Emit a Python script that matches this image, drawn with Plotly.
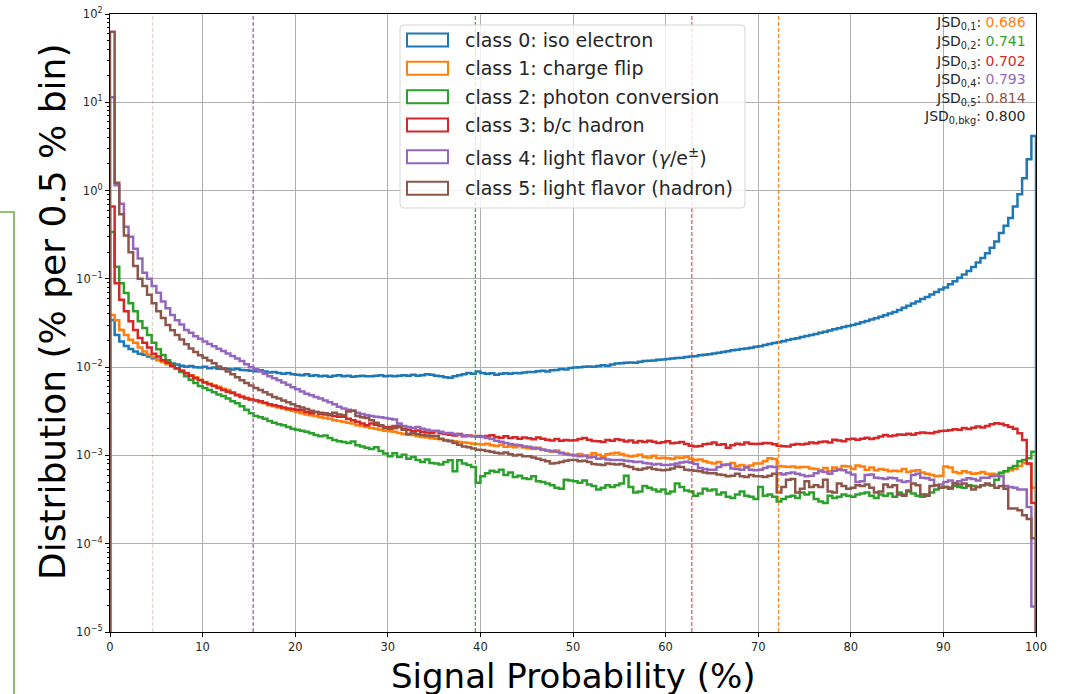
import numpy as np
import plotly.graph_objects as go

# Histogram contents, one value per 0.5 % bin (200 bins from 0 to 100 %),
# listed in units of 1e-4 % so the numbers stay short.
UNIT = 1e-4
BIN_WIDTH = 0.5

class0 = [
    341, 232, 195, 174, 160, 150, 142, 138, 132, 126,
    121, 117, 114, 110, 107, 104, 101, 103, 100, 99,
    101, 97, 99, 96, 97, 95, 94, 96, 93, 92,
    91, 90, 92, 89, 87, 88, 86, 84, 86, 83,
    82, 81, 83, 80, 81, 79, 80, 78, 80, 81,
    79, 80, 78, 79, 80, 79, 79, 80, 81, 79,
    80, 79, 80, 81, 80, 82, 80, 81, 83, 82,
    80, 79, 77, 76, 79, 81, 83, 86, 84, 89,
    86, 84, 85, 82, 84, 85, 84, 86, 85, 87,
    88, 88, 90, 91, 89, 92, 93, 95, 94, 98,
    99, 100, 101, 102, 101, 103, 105, 104, 107, 110,
    111, 112, 113, 112, 115, 117, 118, 119, 121, 122,
    124, 125, 127, 128, 130, 132, 133, 136, 138, 140,
    143, 146, 148, 151, 155, 157, 160, 163, 166, 170,
    173, 178, 183, 188, 192, 197, 203, 208, 213, 219,
    226, 232, 238, 245, 252, 260, 268, 276, 284, 292,
    300, 311, 322, 334, 346, 359, 372, 388, 404, 422,
    445, 470, 497, 525, 555, 590, 625, 665, 710, 760,
    800, 870, 940, 1030, 1120, 1230, 1360, 1530, 1720, 1950,
    2250, 2650, 3300, 4000, 4900, 6600, 9100, 13800, 22600, 41500,
]

class1 = [
    390, 340, 264, 232, 204, 189, 167, 150, 138, 130,
    120, 114, 108, 102, 97, 91, 86, 81, 77, 72,
    68, 65, 62, 60, 57, 55, 52, 49, 47, 45,
    43, 42, 40, 39, 37, 36, 35, 34, 33, 32,
    31, 30, 29, 28.5, 28, 27, 26.5, 26, 25, 24.5,
    24, 23.5, 23, 22, 21.5, 21, 20.5, 20, 19.5, 19,
    18.8, 18.5, 18, 17.5, 17.2, 17, 16.5, 16.2, 16, 15.7,
    15.5, 15.2, 15, 14.8, 14.5, 14.2, 14, 13.8, 13.6, 13.5,
    13.3, 13.6, 13.0, 12.8, 13.2, 12.5, 12.7, 12.4, 12.8, 12.3,
    12.0, 11.8, 12.2, 11.5, 11.3, 11.0, 11.4, 10.8, 10.5, 10.2,
    10.1, 10.4, 9.9, 10.0, 10.6, 10.2, 9.8, 10.3, 10.5, 10.7,
    10.4, 10.0, 9.7, 9.9, 10.2, 9.6, 9.5, 9.9, 9.3, 9.4,
    9.3, 9.1, 9.5, 9.4, 9.7, 9.2, 8.9, 9.0, 8.6, 8.3,
    8.1, 8.4, 7.8, 7.9, 8.2, 7.6, 7.8, 7.5, 7.7, 8.1,
    8.1, 8.6, 9.3, 9.1, 7.6, 7.5, 7.4, 7.5, 7.3, 7.4,
    7.4, 7.1, 7.0, 6.8, 7.2, 6.6, 7.3, 7.0, 7.6, 7.5,
    7.0, 7.7, 7.5, 6.9, 7.3, 6.8, 7.0, 6.9, 6.6, 6.7,
    6.6, 7.0, 6.5, 6.7, 6.8, 6.4, 6.2, 6.0, 5.8, 5.9,
    7.5, 7.3, 6.5, 6.3, 6.6, 6.4, 6.2, 6.3, 6.5, 6.2,
    6.2, 6.1, 6.4, 6.6, 6.8, 7.0, 7.6, 8.2, 8.0, 4.3,
]

class2 = [
    3400, 1370, 890, 690, 530, 430, 330, 278, 232, 189,
    159, 137, 120, 105, 97, 88, 79, 72, 66, 61,
    58, 55, 52, 49, 47, 44, 41, 39, 36, 33,
    30, 28, 27, 26, 24.5, 23.5, 22.5, 22, 21, 20,
    19.5, 19, 18.5, 17.8, 17, 16.5, 16.8, 15.8, 15, 14.5,
    14.2, 13.8, 14.4, 13, 12.6, 12.2, 11.8, 12.4, 11.2, 10.5,
    9.8, 10.6, 9.6, 10.2, 9.2, 9.6, 8.9, 8.4, 9.0, 8.2,
    8.1, 7.9, 8.4, 8.8, 6.6, 8.8, 8.1, 7.8, 7.4, 4.9,
    5.8, 6.3, 6.7, 6.5, 6.9, 6.0, 6.4, 5.7, 5.9, 5.5,
    5.4, 5.8, 5.1, 5.0, 4.8, 4.6, 4.3, 4.2, 5.3, 5.2,
    5.1, 4.9, 5.2, 4.7, 4.5, 4.1, 4.3, 4.6, 4.4, 4.6,
    4.8, 5.9, 4.4, 3.8, 3.9, 4.5, 4.3, 4.1, 3.9, 4.1,
    3.7, 3.9, 4.8, 4.4, 4.0, 3.9, 3.5, 3.7, 4.2, 4.0,
    4.1, 3.6, 3.8, 3.4, 3.3, 3.6, 3.9, 3.5, 3.4, 3.2,
    4.4, 3.5, 3.6, 3.4, 3.0, 3.2, 3.4, 3.5, 3.3, 3.8,
    3.6, 3.8, 3.2, 3.0, 2.9, 3.5, 3.3, 3.4, 3.6, 3.5,
    3.4, 3.6, 3.7, 3.8, 3.5, 3.3, 3.6, 3.5, 3.7, 3.4,
    3.8, 3.6, 3.9, 3.7, 3.5, 3.4, 3.6, 3.8, 4.1, 4.3,
    4.4, 4.2, 4.5, 4.4, 4.3, 4.6, 4.5, 4.4, 4.6, 4.7,
    4.6, 5.3, 6.3, 6.6, 7.2, 7.6, 8.6, 8.9, 9.3, 11.0,
]

class3 = [
    6600, 890, 580, 430, 330, 264, 214, 189, 167, 142,
    132, 120, 112, 104, 97, 91, 85, 80, 75, 71,
    67, 64, 61, 58, 55, 52.5, 51, 48, 46, 44,
    43, 42, 41, 39.5, 38, 37, 36, 35, 34, 33.5,
    33, 32.5, 31, 30, 31, 29.5, 29, 28.5, 28, 27.5,
    27.5, 26, 25, 24, 23, 22, 23, 22.2, 21.5, 21,
    21, 20.5, 21.5, 20, 19.5, 18.8, 19.2, 18.5, 18.2, 18,
    18.8, 17.8, 17.5, 17.2, 16.8, 17.5, 16.5, 16.8, 16.6, 16.6,
    16.4, 16.6, 16.9, 16.2, 15.9, 16.5, 15.8, 16.1, 15.5, 16.0,
    15.7, 15.2, 16.0, 15.4, 15.1, 14.8, 15.3, 14.7, 15.0, 14.8,
    14.9, 15.3, 15.8, 15.1, 14.6, 14.5, 14.2, 15.0, 14.7, 15.2,
    15.0, 14.4, 14.8, 14.0, 14.6, 14.2, 14.7, 14.3, 13.8, 14.1,
    14.5, 13.7, 13.9, 14.2, 13.5, 12.9, 12.6, 12.8, 13.4, 13.6,
    14.0, 13.2, 13.4, 12.2, 13.0, 13.6, 13.3, 14.0, 13.6, 13.5,
    13.6, 13.8, 13.7, 13.4, 12.9, 12.7, 12.6, 13.2, 13.5, 13.3,
    13.6, 14.0, 13.7, 14.2, 14.4, 14.0, 15.1, 14.8, 14.5, 15.2,
    15.4, 15.1, 15.5, 15.9, 15.3, 15.8, 16.4, 17.0, 16.5, 16.8,
    17.3, 17.1, 17.6, 17.2, 17.8, 18.2, 18.0, 17.8, 18.4, 18.9,
    19.0, 19.3, 19.8, 19.5, 20.4, 19.9, 20.6, 21.3, 20.7, 21.6,
    22.6, 23.2, 22.8, 22.0, 21.0, 20.0, 17.8, 15.0, 8.1, 2.9,
]

class4 = [
    114000, 11500, 7100, 3900, 3000, 2200, 1700, 1170, 1000, 830,
    695, 555, 465, 390, 340, 304, 264, 245, 224, 210,
    195, 183, 172, 162, 152, 143, 134, 125, 117, 108,
    100, 95, 89, 84, 79, 75, 71, 67, 63, 59,
    56, 53, 50, 48, 46, 44, 42, 40, 38, 35.5,
    34, 33, 32, 30.5, 29.5, 28.5, 28, 27.5, 27, 26.5,
    26, 25.5, 23, 21.5, 21, 20.5, 21, 20, 19.5, 19,
    19, 18.5, 18, 18, 17.5, 17.2, 16.8, 16.6, 16.5, 16.3,
    16.2, 15.8, 15.3, 14.7, 14.3, 13.8, 13.5, 13.2, 13.0, 12.6,
    12.5, 12.2, 12.0, 11.7, 11.4, 11.2, 11.0, 10.6, 10.3, 10.1,
    10.0, 9.8, 9.9, 9.5, 9.6, 9.2, 9.3, 9.0, 8.9, 8.9,
    8.9, 8.7, 8.6, 8.4, 8.5, 8.2, 8.1, 7.9, 8.0, 7.8,
    7.8, 7.9, 8.1, 8.3, 8.5, 8.3, 8.0, 7.2, 7.0, 6.9,
    6.9, 7.4, 7.8, 7.9, 7.1, 7.0, 6.9, 7.3, 6.9, 6.8,
    6.9, 7.2, 7.5, 7.4, 6.3, 6.1, 6.3, 6.4, 6.2, 6.0,
    5.8, 5.9, 6.3, 6.6, 6.5, 6.2, 6.7, 6.9, 6.8, 6.4,
    6.1, 5.0, 5.1, 6.0, 6.1, 5.6, 5.5, 5.4, 5.6, 5.5,
    5.2, 5.0, 5.1, 6.0, 6.2, 5.6, 5.5, 5.3, 4.6, 4.7,
    5.0, 5.2, 4.9, 5.1, 5.3, 5.5, 5.4, 5.2, 5.6, 5.6,
    5.8, 5.9, 5.8, 4.5, 4.4, 4.3, 4.1, 4.1, 2.6, 0.195,
]

class5 = [
    630000, 12300, 5400, 3100, 2000, 1400, 1000, 830, 660, 530,
    430, 360, 300, 262, 232, 205, 182, 163, 148, 136,
    128, 119, 111, 102, 95, 89, 83, 77, 71, 66,
    62, 58, 55, 52, 49, 46, 44, 42, 40, 38,
    36, 35, 33.5, 32, 31, 30.5, 30, 29.5, 30.5, 29,
    28.5, 31.5, 32, 28, 27, 26.5, 25, 23.5, 22, 20.5,
    20, 21.5, 21, 19.5, 17.5, 18, 17.4, 17, 16.8, 16.6,
    16.6, 15.5, 14.8, 14.5, 13.8, 13.2, 12.6, 12.4, 12.0, 11.6,
    11.5, 11.2, 11.0, 10.7, 10.5, 10.8, 10.3, 10.0, 10.2, 9.8,
    9.8, 9.5, 9.2, 8.9, 8.6, 8.1, 8.2, 8.4, 8.7, 8.9,
    8.9, 8.6, 8.7, 8.4, 8.0, 7.9, 7.8, 8.1, 8.0, 7.9,
    8.0, 7.6, 7.4, 7.0, 6.9, 7.1, 7.3, 7.0, 6.9, 6.8,
    6.9, 7.1, 7.5, 7.4, 6.9, 6.8, 6.7, 6.6, 6.4, 6.3,
    6.3, 6.1, 6.0, 5.8, 5.9, 6.2, 5.8, 5.7, 6.0, 5.8,
    5.8, 5.7, 5.9, 6.2, 3.8, 4.4, 5.3, 5.4, 3.8, 4.2,
    5.1, 4.4, 4.6, 4.4, 5.3, 3.9, 3.8, 4.8, 4.5, 4.2,
    4.3, 4.6, 4.5, 4.7, 4.3, 3.8, 3.9, 4.7, 4.4, 4.6,
    3.6, 3.5, 4.0, 4.8, 4.6, 3.6, 3.5, 4.5, 4.6, 4.3,
    4.4, 4.3, 4.8, 4.7, 4.8, 4.5, 4.1, 4.4, 4.6, 4.8,
    4.6, 4.3, 4.5, 4.2, 2.5, 2.5, 2.4, 2.1, 1.9, 1.15,
]

class_values = [class0, class1, class2, class3, class4, class5]
class_names = [
    "class 0: iso electron",
    "class 1: charge flip",
    "class 2: photon conversion",
    "class 3: b/c hadron",
    "class 4: light flavor (<i>γ</i>/e<sup>±</sup>)",
    "class 5: light flavor (hadron)",
]
class_colors = ["#1f77b4", "#ff7f0e", "#2ca02c", "#d62728", "#9467bd", "#8c564b"]

# Working-point thresholds (signal probability, %) per background class
thresholds = [4.6, 15.46, 39.46, 62.83, 72.2]
threshold_colors = [
    "rgba(140,86,75,0.25)",
    "rgba(148,103,189,1.0)",
    "rgba(44,160,44,0.9)",
    "rgba(214,39,40,0.75)",
    "rgba(255,127,14,0.9)",
]

# Jensen-Shannon divergences between class 0 and the other classes
jsd_subscripts = ["0,1", "0,2", "0,3", "0,4", "0,5", "0,bkg"]
jsd_values = ["0.686", "0.741", "0.702", "0.793", "0.814", "0.800"]
jsd_colors = ["#ff7f0e", "#2ca02c", "#d62728", "#9467bd", "#8c564b", "#262626"]

x_ticks = [0, 10, 20, 30, 40, 50, 60, 70, 80, 90, 100]
y_ticks = [1e-5, 1e-4, 1e-3, 1e-2, 1e-1, 1e0, 1e1, 1e2]
y_tick_text = ["10<sup>−5</sup>", "10<sup>−4</sup>", "10<sup>−3</sup>", "10<sup>−2</sup>",
               "10<sup>−1</sup>", "10<sup>0</sup>", "10<sup>1</sup>", "10<sup>2</sup>"]

# ---------------------------------------------------------------- layout
W, H = 1068, 694
ML, MR, MT, MB = 110, 32, 14, 62
FONT = "DejaVu Sans"


def px(x):
    """Pixel column -> paper x."""
    return (x - ML) / (W - ML - MR)


def py(y):
    """Pixel row -> paper y."""
    return (H - MB - y) / (H - MT - MB)


fig = go.Figure()

n_bins = len(class0)
edges = np.arange(n_bins + 1) * BIN_WIDTH
FLOOR = 1e-12  # outline closes down to below the axis, as a step histogram does

for vals, color in zip(class_values, class_colors):
    v = np.asarray(vals, dtype=float) * UNIT
    xs = np.concatenate([[edges[0]], edges[:-1], [edges[-1], edges[-1]]])
    ys = np.concatenate([[FLOOR], v, [v[-1], FLOOR]])
    fig.add_trace(go.Scatter(
        x=xs, y=ys, mode="lines",
        line=dict(color=color, width=2.5, shape="hv"),
        showlegend=False, hoverinfo="skip",
    ))

shapes = []

# faint decade line at 10^-1
shapes.append(dict(type="line", xref="paper", yref="y", x0=0, x1=1, y0=0.1, y1=0.1,
                   line=dict(color="rgba(255,255,255,0.8)", width=1.2), layer="between"))

# threshold markers
for t, c in zip(thresholds, threshold_colors):
    shapes.append(dict(type="line", xref="x", yref="paper", x0=t, x1=t, y0=0, y1=1,
                       line=dict(color=c, width=1.3, dash="4px,2px"), layer="above"))

# legend frame with rounded corners
lx0, lx1, ly0, ly1, r = 400, 745, 25, 208, 4
path = (f"M{px(lx0 + r)},{py(ly0)} L{px(lx1 - r)},{py(ly0)} "
        f"Q{px(lx1)},{py(ly0)} {px(lx1)},{py(ly0 + r)} "
        f"L{px(lx1)},{py(ly1 - r)} Q{px(lx1)},{py(ly1)} {px(lx1 - r)},{py(ly1)} "
        f"L{px(lx0 + r)},{py(ly1)} Q{px(lx0)},{py(ly1)} {px(lx0)},{py(ly1 - r)} "
        f"L{px(lx0)},{py(ly0 + r)} Q{px(lx0)},{py(ly0)} {px(lx0 + r)},{py(ly0)} Z")
shapes.append(dict(type="path", xref="paper", yref="paper", path=path,
                   fillcolor="rgba(255,255,255,0.8)",
                   line=dict(color="#d5d5d5", width=1), layer="above"))

legend_rows = [40, 68.3, 96.7, 125, 156.7, 188.3]
annotations = []
for row, name, color in zip(legend_rows, class_names, class_colors):
    shapes.append(dict(type="rect", xref="paper", yref="paper",
                       x0=px(407), x1=px(448), y0=py(row + 6.5), y1=py(row - 6.5),
                       line=dict(color=color, width=2), fillcolor="rgba(0,0,0,0)",
                       layer="above"))
    annotations.append(dict(xref="paper", yref="paper", x=px(463), y=py(row),
                            xanchor="left", yanchor="middle", showarrow=False,
                            text=name, font=dict(family=FONT, size=19, color="#262626")))

# JSD summary in the top-right corner
jsd_rows = [23.5, 42.5, 61.5, 80, 98.5, 117]
for row, sub, val, col in zip(jsd_rows, jsd_subscripts, jsd_values, jsd_colors):
    annotations.append(dict(
        xref="paper", yref="paper", x=px(1028), y=py(row),
        xanchor="right", yanchor="middle", showarrow=False,
        text=f"JSD<sub>{sub}</sub>: <span style='color:{col}'>{val}</span>",
        font=dict(family=FONT, size=14, color="#262626"),
    ))

# axis titles
annotations.append(dict(xref="paper", yref="paper", x=0.5, y=py(676),
                        xanchor="center", yanchor="middle", showarrow=False,
                        text="Signal Probability (%)",
                        font=dict(family=FONT, size=34, color="black")))
annotations.append(dict(xref="paper", yref="paper", x=px(52), y=py(312),
                        xanchor="center", yanchor="middle", showarrow=False,
                        textangle=-90, text="Distribution (% per 0.5 % bin)",
                        font=dict(family=FONT, size=36, color="black")))

# green bracket at the left margin
shapes.append(dict(type="path", xref="paper", yref="paper",
                   path=f"M{px(0)},{py(212)} L{px(14)},{py(212)} L{px(14)},{py(700)}",
                   line=dict(color="#70ad47", width=1.6), layer="above"))

minor_vals = [m * 10.0 ** e for e in range(-5, 2) for m in range(2, 10)]

fig.update_layout(
    width=W, height=H,
    margin=dict(l=ML, r=MR, t=MT, b=MB, pad=0, autoexpand=False),
    paper_bgcolor="white", plot_bgcolor="white",
    font=dict(family=FONT, size=11, color="#262626"),
    showlegend=False,
    shapes=shapes, annotations=annotations,
    xaxis=dict(
        range=[0, 100], tickvals=x_ticks, ticks="outside", ticklen=4,
        tickcolor="black", tickfont=dict(size=11.5, family=FONT, color="#262626"),
        showgrid=True, gridcolor="#b0b0b0", gridwidth=1,
        showline=True, linecolor="black", linewidth=1.2, mirror=True,
        zeroline=False, automargin=False,
    ),
    yaxis=dict(
        type="log", range=[-5, 2], tickmode="array", tickvals=y_ticks,
        ticktext=y_tick_text, ticks="outside", ticklen=4, tickcolor="black",
        tickfont=dict(size=11.5, family=FONT, color="#262626"),
        showgrid=True, gridcolor="#b0b0b0", gridwidth=1,
        showline=True, linecolor="black", linewidth=1.2, mirror=True,
        zeroline=False, automargin=False,
        minor=dict(tickmode="array", tickvals=minor_vals, ticks="outside",
                   ticklen=2, tickcolor="black", showgrid=False),
    ),
)

fig.write_html("out.html")
